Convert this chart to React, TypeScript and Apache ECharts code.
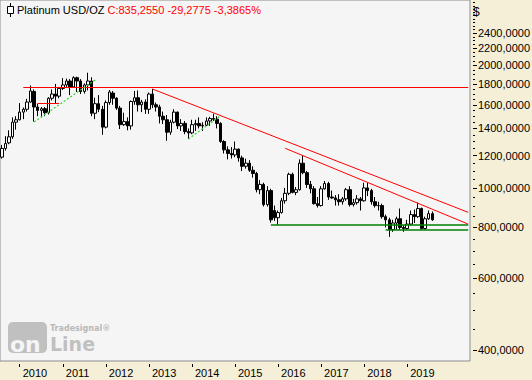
import React, { useEffect, useRef } from 'react';
import * as echarts from 'echarts';

// ---- data (monthly platinum candles, Aug 2009 .. Aug 2019) ----
const START_YEAR = 2009;
const START_MONTH = 8;
const TOTAL_SLOTS = 131; // includes empty months to the right of the last candle

const opens = [
  1190, 1250, 1290, 1335, 1450,
  1470, 1535, 1560, 1625, 1725, 1580, 1550, 1565, 1530, 1660, 1700, 1680,
  1755, 1790, 1830, 1770, 1865, 1830, 1725, 1790, 1830, 1525, 1610, 1560,
  1410, 1620, 1710, 1660, 1570, 1430, 1455, 1420, 1630, 1665, 1600, 1625,
  1560, 1700, 1600, 1580, 1500, 1470, 1370, 1450, 1535, 1420, 1440, 1375,
  1365, 1430, 1440, 1420, 1425, 1460, 1480, 1475, 1440, 1300, 1240, 1215,
  1205, 1245, 1185, 1130, 1150, 1105, 1085, 990, 1020, 910, 985, 880,
  845, 870, 930, 970, 1080, 975, 990, 1150, 1090, 1020, 995, 915,
  905, 995, 1025, 950, 945, 935, 925, 940, 990, 910, 920, 940,
  930, 1000, 985, 925, 905, 905, 850, 835, 790, 820, 840, 800,
  795, 815, 860, 850, 890, 795, 840, 864.5325,
];
const closes = [
  1250, 1285, 1335, 1450, 1470,
  1535, 1560, 1625, 1730, 1580, 1550, 1565, 1530, 1660, 1700, 1680, 1755,
  1790, 1830, 1770, 1865, 1830, 1725, 1790, 1830, 1525, 1610, 1560, 1410,
  1620, 1720, 1660, 1570, 1430, 1455, 1420, 1630, 1665, 1600, 1625, 1560,
  1700, 1600, 1580, 1500, 1470, 1370, 1450, 1535, 1420, 1440, 1375, 1365,
  1430, 1440, 1420, 1425, 1460, 1480, 1475, 1440, 1300, 1240, 1215, 1205,
  1245, 1185, 1130, 1150, 1105, 1085, 990, 1020, 910, 985, 835, 845,
  870, 930, 970, 1080, 975, 990, 1150, 1090, 1020, 995, 915, 905,
  995, 1025, 950, 945, 935, 925, 940, 990, 910, 920, 940, 930,
  1000, 985, 925, 905, 905, 850, 835, 790, 820, 840, 800, 795,
  815, 860, 850, 890, 795, 840, 864.5325, 835.255,
];
const lows = [
  1180, 1235, 1280, 1320, 1390,
  1465, 1475, 1540, 1620, 1455, 1500, 1490, 1500, 1515, 1640, 1610, 1660,
  1740, 1770, 1690, 1760, 1720, 1700, 1705, 1735, 1500, 1475, 1535, 1350,
  1400, 1600, 1600, 1555, 1395, 1420, 1385, 1390, 1600, 1540, 1535, 1520,
  1520, 1570, 1540, 1440, 1435, 1305, 1350, 1440, 1395, 1380, 1355, 1318,
  1355, 1380, 1400, 1380, 1420, 1420, 1460, 1400, 1290, 1215, 1175, 1180,
  1190, 1160, 1100, 1115, 1095, 1060, 975, 965, 900, 900, 822, 830,
  812, 865, 915, 960, 970, 960, 985, 1080, 1000, 970, 910, 895,
  900, 990, 935, 940, 905, 905, 910, 930, 900, 900, 910, 880,
  925, 955, 910, 895, 880, 840, 800, 758, 780, 790, 790, 780,
  790, 810, 820, 845, 790, 790, 835, 830,
];
const highs = [
  1275, 1340, 1385, 1490, 1500,
  1615, 1575, 1655, 1785, 1745, 1610, 1580, 1580, 1670, 1745, 1800, 1770,
  1860, 1855, 1850, 1880, 1875, 1850, 1805, 1918, 1870, 1665, 1690, 1590,
  1640, 1740, 1730, 1670, 1590, 1530, 1490, 1640, 1730, 1735, 1645, 1650,
  1715, 1750, 1620, 1600, 1540, 1510, 1470, 1560, 1540, 1475, 1460, 1400,
  1470, 1470, 1490, 1450, 1490, 1495, 1520, 1500, 1450, 1310, 1265, 1260,
  1300, 1250, 1200, 1180, 1170, 1130, 1095, 1045, 1030, 1010, 995, 905,
  880, 945, 1000, 1090, 1090, 1005, 1175, 1200, 1100, 1040, 1010, 950,
  1010, 1040, 1035, 985, 960, 965, 950, 1000, 1010, 940, 960, 950,
  1030, 1030, 995, 950, 925, 915, 860, 845, 835, 850, 890, 810,
  835, 880, 885, 920, 895, 850, 880, 875,
];

// price axis labels and minor tick prices
const priceLabels = [400, 600, 800, 1000, 1200, 1400, 1600, 1800, 2000, 2200, 2400];
const minorTickStep = 50;

// trend lines: [fromMonth, fromPrice, toMonth, toPrice]
const redLines: [string, number, string, number][] = [
  ['2010-02', 1770, '2020-06', 1770],
  ['2010-06', 1613, '2010-12', 1613],
  ['2013-02', 1749, '2020-06', 871],
  ['2016-03', 1251, '2020-06', 815],
];
const greenLines: [string, number, string, number][] = [
  ['2015-11', 814, '2020-06', 814],
  ['2018-07', 791, '2020-06', 791],
];
const greenDottedLines: [string, number, string, number][] = [
  ['2010-05', 1452, '2011-10', 1840],
  ['2013-12', 1318, '2014-09', 1504],
];

const Y_MIN = 375.9;
const Y_MAX = 2893;

const FONT = '"Liberation Sans", Arial, sans-serif';

function buildCategories(): string[] {
  const out: string[] = [];
  for (let i = 0; i < TOTAL_SLOTS; i++) {
    const m = START_MONTH - 1 + i;
    const y = START_YEAR + Math.floor(m / 12);
    const mm = (m % 12) + 1;
    out.push(`${y}-${String(mm).padStart(2, '0')}`);
  }
  return out;
}

function fmt(v: number, d: number) {
  return v.toFixed(d).replace('.', ',');
}

export default function App() {
  const ref = useRef<HTMLDivElement>(null);

  useEffect(() => {
    if (!ref.current) return;
    const chart = echarts.init(ref.current, null, { renderer: 'svg' });

    const categories = buildCategories();
    const candles = opens.map((o, i) => [o, closes[i], lows[i], highs[i]]);

    const minorTicks: number[] = [];
    for (let v = 450; v < Y_MAX; v += minorTickStep) {
      if (!priceLabels.includes(v)) minorTicks.push(v);
    }

    const last = closes[closes.length - 1];
    const prev = closes[closes.length - 2];
    const chg = last - prev;
    const pct = (chg / prev) * 100;
    const titleRed = `C:${fmt(last, 4)} ${fmt(chg, 4)} ${fmt(pct, 4)}%`;

    const mk = (arr: [string, number, string, number][], style: any) =>
      arr.map(([c1, p1, c2, p2]) => [
        { coord: [c1, p1], lineStyle: style },
        { coord: [c2, p2] },
      ]);

    const isJan = (i: number, v: string) =>
      String(v).endsWith('-01') && i < opens.length;

    const yAxisBase = {
      type: 'log',
      logBase: 10,
      min: Y_MIN,
      max: Y_MAX,
      position: 'right',
      offset: 3,
      axisLine: { show: false },
      splitLine: { show: false },
    };

    chart.setOption({
      animation: false,
      backgroundColor: '#f5efd8',
      grid: {
        left: 0,
        right: 62,
        top: 0,
        bottom: 19,
        show: true,
        backgroundColor: '#f5f5f5',
        borderColor: '#8c8c8c',
        borderWidth: 1,
        outerBoundsMode: 'none',
      },
      xAxis: {
        type: 'category',
        data: categories,
        boundaryGap: true,
        offset: 3,
        axisLine: { show: false },
        axisTick: {
          show: true,
          alignWithLabel: true,
          interval: isJan,
          length: 3,
          lineStyle: { color: '#000' },
        },
        axisLabel: {
          interval: isJan,
          formatter: (v: string) => v.slice(0, 4),
          align: 'left',
          padding: [0, 0, 0, 3],
          margin: 3,
          color: '#000',
          fontFamily: FONT,
          fontSize: 11,
        },
        splitLine: { show: false },
      },
      yAxis: [
        {
          ...yAxisBase,
          axisTick: {
            show: true,
            length: 4,
            customValues: priceLabels,
            lineStyle: { color: '#000' },
          },
          axisLabel: {
            customValues: priceLabels,
            formatter: (v: number) => fmt(v, 4),
            margin: 5,
            color: '#000',
            fontFamily: FONT,
            fontSize: 11,
          },
        },
        {
          ...yAxisBase,
          axisTick: {
            show: true,
            length: 2,
            customValues: minorTicks,
            lineStyle: { color: '#000' },
          },
          axisLabel: { show: false },
        },
      ],
      series: [
        {
          type: 'candlestick',
          data: candles,
          barWidth: 3,
          itemStyle: {
            color: '#ffffff',
            color0: '#000000',
            borderColor: '#000000',
            borderColor0: '#000000',
            borderWidth: 1,
          },
          markLine: {
            silent: true,
            symbol: ['none', 'none'],
            label: { show: false },
            emphasis: { disabled: true },
            data: [
              ...mk(redLines, { color: '#ff0000', width: 1, type: 'solid' }),
              ...mk(greenLines, { color: '#008000', width: 1.5, type: 'solid' }),
              ...mk(greenDottedLines, { color: '#2fd62f', width: 1.2, type: [2, 2] }),
            ],
          },
        },
      ],
      graphic: [
        // title icon
        {
          type: 'line',
          shape: { x1: 10.5, y1: 3, x2: 10.5, y2: 17 },
          style: { stroke: '#000', lineWidth: 1 },
        },
        {
          type: 'rect',
          shape: { x: 7.5, y: 6.5, width: 6, height: 7 },
          style: { fill: '#fff', stroke: '#000', lineWidth: 1 },
        },
        {
          type: 'text',
          x: 17,
          y: 4,
          style: {
            text: `{a|Platinum USD/OZ} {b|${titleRed}}`,
            font: `11px ${FONT}`,
            verticalAlign: 'top',
            rich: {
              a: { fill: '#000', fontFamily: FONT, fontSize: 11 },
              b: { fill: '#ff0000', fontFamily: FONT, fontSize: 11 },
            },
          },
        },
        {
          type: 'text',
          x: 473,
          y: 6,
          style: { text: '$', font: `12px ${FONT}`, fill: '#000', verticalAlign: 'top' },
        },
        // watermark
        {
          type: 'rect',
          shape: { x: 8, y: 322, width: 39, height: 31, r: 5 },
          style: { fill: '#c0c0c0' },
        },
        {
          type: 'text',
          x: 10,
          y: 353,
          style: {
            text: 'on',
            font: 'bold 22px "DejaVu Sans", sans-serif',
            lineHeight: 18,
            fill: '#f5f5f5',
            verticalAlign: 'bottom',
          },
        },
        {
          type: 'text',
          x: 50,
          y: 352,
          style: {
            text: 'Line',
            font: 'bold 19px "DejaVu Sans", sans-serif',
            lineHeight: 16,
            fill: '#c0c0c0',
            verticalAlign: 'bottom',
          },
        },
        {
          type: 'text',
          x: 50,
          y: 324,
          style: {
            text: 'Tradesignal®',
            font: 'bold 8px "DejaVu Sans", sans-serif',
            lineHeight: 9,
            fill: '#b8b8b8',
            verticalAlign: 'top',
          },
        },
      ],
    });

    return () => chart.dispose();
  }, []);

  return (
    <div
      ref={ref}
      style={{ position: 'fixed', left: 0, top: 0, width: 532, height: 380 }}
    />
  );
}
